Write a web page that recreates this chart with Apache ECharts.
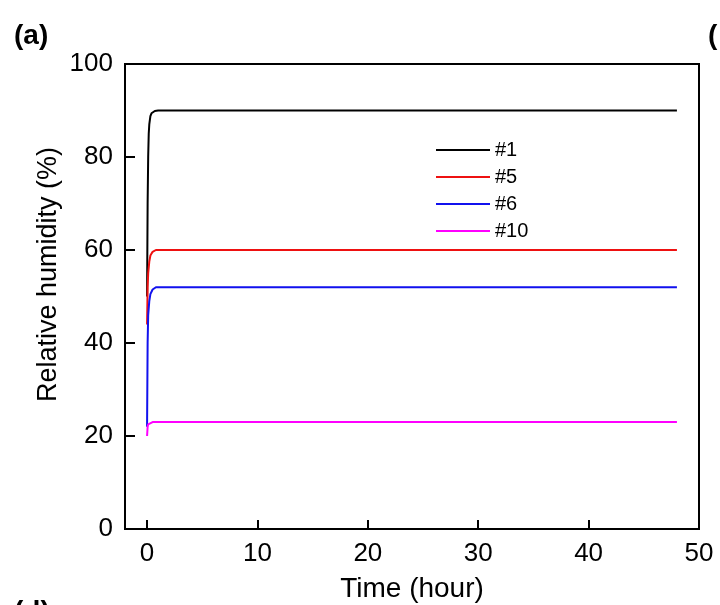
<!DOCTYPE html>
<html><head><meta charset="utf-8">
<script src="https://cdn.jsdelivr.net/npm/echarts@6/dist/echarts.min.js"></script>
<style>html,body{margin:0;padding:0;background:#fff}#c{width:720px;height:605px}</style>
</head><body><div id="c"></div>
<script>
var seriesNames = ['#1', '#5', '#6', '#10'];
var seriesColors = ['#000000', '#ee1111', '#1111ee', '#ff00ff'];
var t1 = [0, 0.05, 0.1, 0.15, 0.2, 0.3, 0.4, 0.5, 0.7, 1, 48];
var v1 = [50, 70, 80, 85, 87, 88.8, 89.4, 89.7, 89.9, 90, 90];
var t5 = [0, 0.05, 0.1, 0.2, 0.3, 0.5, 0.8, 48];
var v5 = [44, 52, 55, 57.5, 58.8, 59.6, 60, 60];
var t6 = [0, 0.05, 0.1, 0.2, 0.3, 0.5, 0.8, 48];
var v6 = [22, 40, 46, 49, 50.5, 51.5, 52, 52];
var t10 = [0, 0.05, 0.1, 0.2, 0.5, 48];
var v10 = [20, 22, 22.5, 22.8, 23, 23];
var xTicks = [0, 10, 20, 30, 40, 50];
var yTicks = [0, 20, 40, 60, 80, 100];

function pairs(t, v) { return t.map(function (x, i) { return [x, v[i]]; }); }
var allData = [pairs(t1, v1), pairs(t5, v5), pairs(t6, v6), pairs(t10, v10)];

var font = 'Liberation Sans, Arial, sans-serif';
var chart = echarts.init(document.getElementById('c'));
chart.setOption({
  animation: false,
  grid: { left: 125, top: 64, right: 21, bottom: 76, outerBoundsMode: 'none', containLabel: false, show: true, borderColor: '#000', borderWidth: 2, backgroundColor: 'transparent' },
  legend: {
    orient: 'vertical', left: 431, top: 135, itemWidth: 54, itemHeight: 2, itemGap: 7, icon: 'rect',
    textStyle: { fontFamily: font, fontSize: 20, color: '#000' },
    data: seriesNames
  },
  xAxis: {
    type: 'value', min: -2, max: 50, interval: 10,
    name: 'Time (hour)', nameLocation: 'middle', nameGap: 46, nameMoveOverlap: false,
    nameTextStyle: { fontFamily: font, fontSize: 28, color: '#000' },
    axisLine: { show: true, onZero: false, lineStyle: { color: '#000', width: 2 } },
    axisTick: { show: true, inside: true, length: 9, lineStyle: { color: '#000', width: 2 }, customValues: xTicks },
    axisLabel: { fontFamily: font, fontSize: 26, color: '#000', margin: 12, customValues: xTicks },
    splitLine: { show: false }
  },
  yAxis: {
    type: 'value', min: 0, max: 100, interval: 20,
    name: 'Relative humidity (%)', nameLocation: 'middle', nameGap: 63, nameMoveOverlap: false,
    nameTextStyle: { fontFamily: font, fontSize: 27, color: '#000', padding: [0, 0, 0, 44] },
    axisLine: { show: true, onZero: false, lineStyle: { color: '#000', width: 2 } },
    axisTick: { show: true, inside: true, length: 10, lineStyle: { color: '#000', width: 2 } },
    axisLabel: { fontFamily: font, fontSize: 26, color: '#000', margin: 12 },
    splitLine: { show: false }
  },
  series: seriesNames.map(function (n, i) {
    return {
      name: n, type: 'line', data: allData[i], showSymbol: false, symbol: 'none',
      lineStyle: { color: seriesColors[i], width: 2 }, itemStyle: { color: seriesColors[i] }
    };
  }),
  graphic: [
    { type: 'text', left: 14, top: 22, style: { text: '(a)', fontFamily: font, fontSize: 28, fontWeight: 'bold', fill: '#000' } },
    { type: 'text', left: 708, top: 22, style: { text: '(', fontFamily: font, fontSize: 28, fontWeight: 'bold', fill: '#000' } },
    { type: 'text', left: 14, top: 598, style: { text: '(d)', fontFamily: font, fontSize: 28, fontWeight: 'bold', fill: '#000' } }
  ]
});
</script></body></html>
